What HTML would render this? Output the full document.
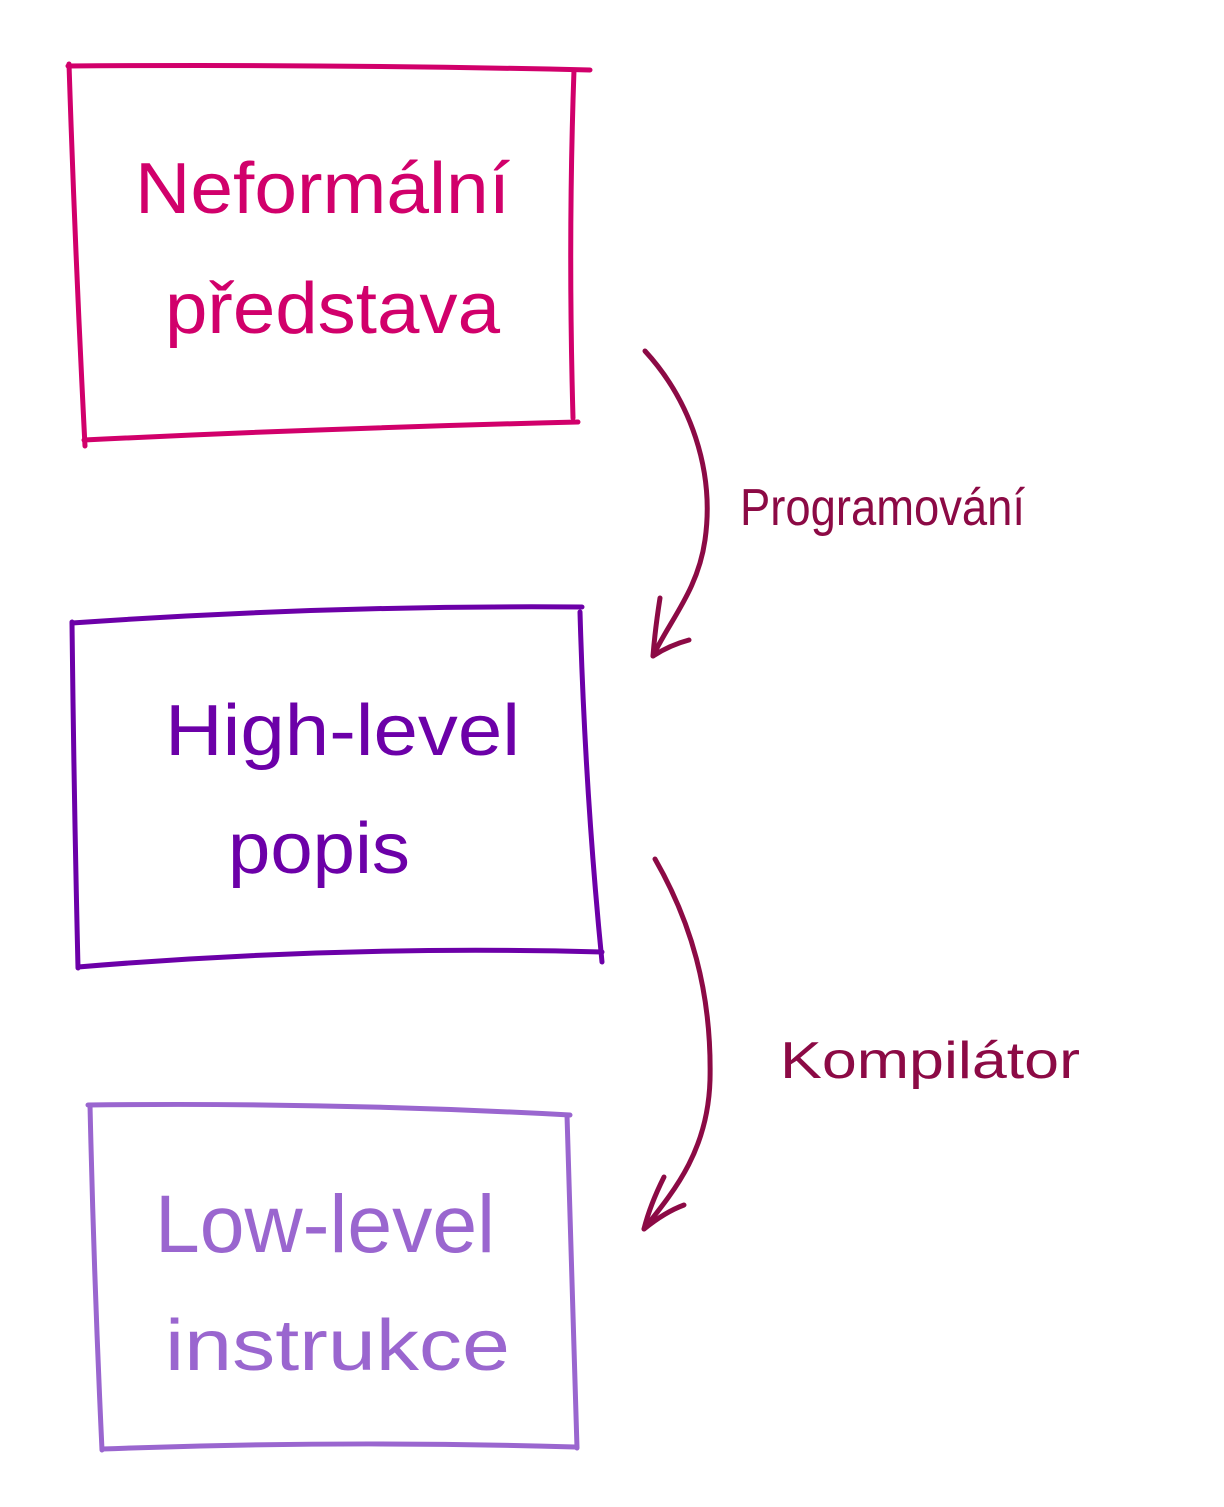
<!DOCTYPE html>
<html><head><meta charset="utf-8"><style>
html,body{margin:0;padding:0;background:#fff;}
svg{display:block}
text{font-family:"Liberation Sans",sans-serif;}
</style></head><body>
<svg width="1224" height="1507" viewBox="0 0 1224 1507" xmlns="http://www.w3.org/2000/svg" fill="none" stroke-linecap="round" stroke-linejoin="round">
<!-- Box 1 -->
<g stroke="#d1006b" stroke-width="5">
<path d="M68,66 Q330,64 590,70"/>
<path d="M69,64 Q75,250 85,446"/>
<path d="M84,440 Q330,428 578,422"/>
<path d="M574,70 Q568,240 573,418"/>
</g>
<text x="135" y="213" font-size="72" fill="#d1006b" textLength="375" lengthAdjust="spacingAndGlyphs">Neformální</text>
<text x="165" y="333" font-size="72" fill="#d1006b" textLength="335" lengthAdjust="spacingAndGlyphs">představa</text>
<!-- Box 2 -->
<g stroke="#6c00a8" stroke-width="5">
<path d="M72,623 Q330,605 582,607"/>
<path d="M72,622 Q74,800 78,968"/>
<path d="M78,967 Q340,945 602,952"/>
<path d="M580,612 Q585,790 602,962"/>
</g>
<text x="165" y="755" font-size="72" fill="#6c00a8" textLength="355" lengthAdjust="spacingAndGlyphs">High-level</text>
<text x="228" y="873" font-size="72" fill="#6c00a8" textLength="182" lengthAdjust="spacingAndGlyphs">popis</text>
<!-- Box 3 -->
<g stroke="#9a66cf" stroke-width="5">
<path d="M88,1105 Q330,1102 570,1115"/>
<path d="M90,1105 Q94,1280 102,1450"/>
<path d="M102,1449 Q340,1440 575,1447"/>
<path d="M567,1115 Q572,1280 577,1448"/>
</g>
<text x="155" y="1252" font-size="82" fill="#9a66cf" textLength="340" lengthAdjust="spacingAndGlyphs">Low-level</text>
<text x="165" y="1370" font-size="72" fill="#9a66cf" textLength="345" lengthAdjust="spacingAndGlyphs">instrukce</text>
<!-- Arrows -->
<g stroke="#8c0a45" stroke-width="5">
<path d="M645,351 C690,400 715,470 705,540 C698,590 670,620 653,656"/>
<path d="M660,598 Q655,630 653,656 Q670,645 689,640"/>
<path d="M655,859 C690,920 712,990 710,1080 C708,1150 675,1190 644,1229"/>
<path d="M664,1177 Q650,1205 644,1229 Q665,1212 684,1205"/>
</g>
<text x="740" y="525" font-size="52" fill="#8c0a45" textLength="285" lengthAdjust="spacingAndGlyphs">Programování</text>
<text x="780" y="1078" font-size="52" fill="#8c0a45" textLength="300" lengthAdjust="spacingAndGlyphs">Kompilátor</text>
</svg>
</body></html>
